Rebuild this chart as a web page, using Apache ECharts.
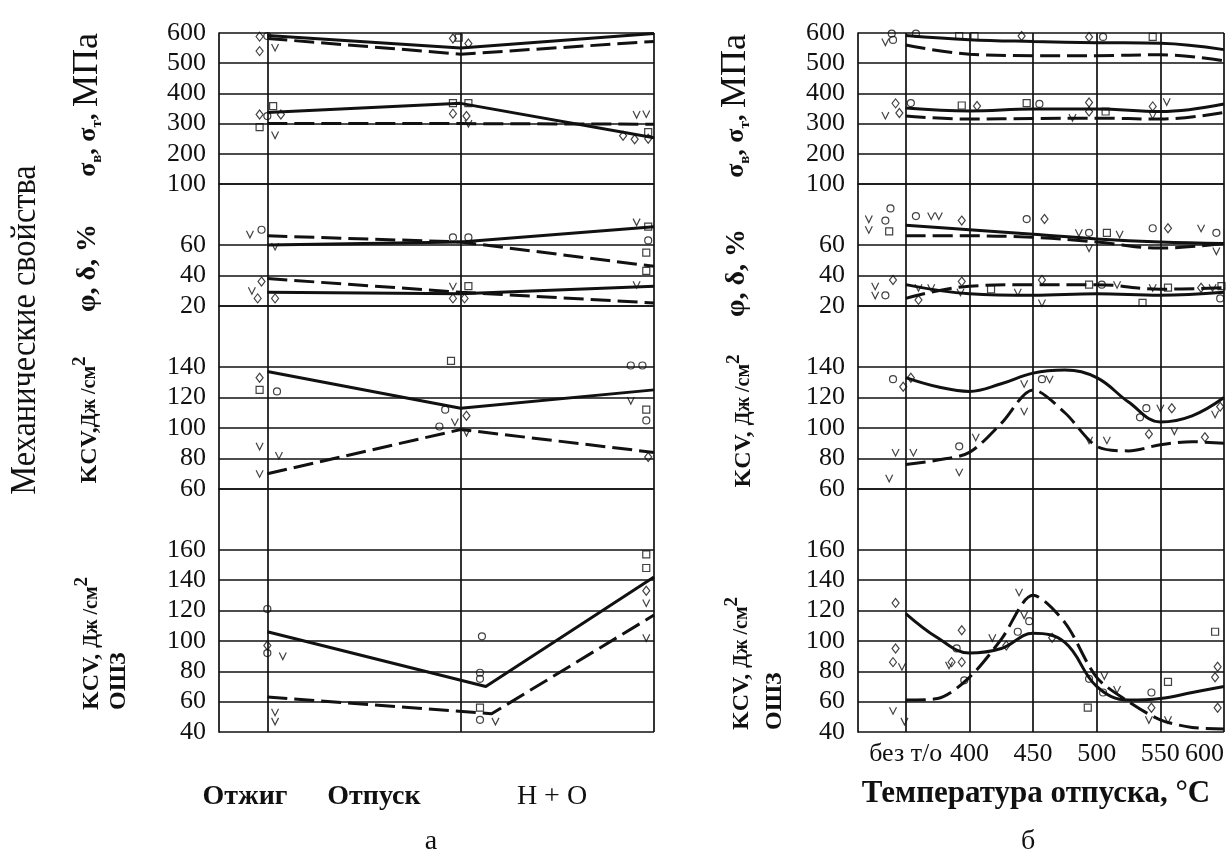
<!DOCTYPE html>
<html lang="ru">
<head>
<meta charset="utf-8">
<title>Механические свойства</title>
<script src="https://cdn.jsdelivr.net/npm/echarts@6.0.0/dist/echarts.min.js"></script>
<style>
  html, body { margin: 0; background: #fff; }
  #chart { width: 1231px; height: 854px; }
</style>
</head>
<body>
<div id="chart"></div>
<script>
// ---- панель а: режимы термообработки (1 — отжиг, 2 — отпуск, 3 — Н+О) ----
const regimeX = [1, 2, 3]
const sbSolidA = [592, 550, 598]   // σв
const sbDashA = [582, 530, 572]
const stSolidA = [337, 367, 253]   // σт
const stDashA = [300, 300, 298]
const psiSolidA = [60, 62, 72]     // φ
const psiDashA = [66, 62, 46]
const dSolidA = [29, 28, 33]       // δ
const dDashA = [38, 29, 22]
const kcvSolidA = [137, 113, 125]
const kcvDashA = [70, 99, 84]
const hazSolidXA = [1, 2.13, 3]    // KCV ОШЗ, излом правее «отпуска»
const hazSolidA = [106, 70, 142]
const hazDashXA = [1, 2.16, 3]
const hazDashA = [63, 52, 117]

// ---- панель б: температура отпуска (350 — «без т/о») ----
const tempX = [350, 400, 450, 500, 550, 600]
const tempFineX = [350, 375, 400, 425, 450, 475, 500, 525, 550, 575, 600]
const sbSolidB = [592, 578, 572, 568, 566, 545]
const sbDashB = [560, 530, 525, 525, 528, 508]
const stSolidB = [352, 342, 348, 348, 340, 365]
const stDashB = [325, 315, 317, 318, 315, 337]
const psiSolidB = [73, 70, 67, 64, 62, 61]
const psiDashB = [66, 66, 65, 62, 58, 61]
const dSolidB = [34, 28, 27, 28, 27, 29]
const dDashB = [25, 33, 34, 34, 31, 32]
const kcvSolidB = [133, 127, 124, 129, 136, 138, 133, 117, 104, 108, 120]
const kcvDashB = [76, 79, 84, 103, 125, 110, 88, 85, 89, 91, 90]
const hazSolidB = [118, 102, 92, 95, 105, 99, 70, 61, 62, 66, 70]
const hazDashB = [61, 62, 76, 101, 130, 112, 76, 60, 48, 43, 42]

// ---- экспериментальные точки: [x, значение, вид] d — ромб, s — квадрат, c — круг, v — галочка ----
const ptsA1 = [[0.96,588,'d'],[0.96,540,'d'],[1.04,552,'v'],[1.0,590,'c'],[1.03,358,'s'],[0.96,330,'d'],[1.0,325,'c'],[0.96,288,'s'],[1.04,262,'v'],[1.07,330,'d'],
  [1.96,582,'d'],[1.99,585,'s'],[2.04,565,'d'],[1.96,368,'s'],[2.04,368,'s'],[1.96,333,'d'],[2.03,325,'d'],[2.04,300,'v'],
  [2.91,330,'v'],[2.96,332,'v'],[2.84,260,'d'],[2.9,248,'d'],[2.97,250,'d'],[2.97,272,'s']]
const ptsA2 = [[0.91,67,'v'],[0.97,70,'c'],[1.04,59,'v'],[1.96,65,'c'],[2.04,65,'c'],
  [2.91,75,'v'],[2.97,72,'s'],[2.97,63,'c'],[2.96,55,'s'],[2.96,43,'s'],
  [0.97,36,'d'],[0.92,30,'v'],[0.95,25,'d'],[1.04,25,'d'],[1.96,33,'v'],[2.04,33,'s'],[1.96,25,'d'],[2.02,25,'d'],[2.91,34,'v']]
const ptsA3 = [[0.96,133,'d'],[0.96,125,'s'],[1.05,124,'c'],[0.96,88,'v'],[1.06,82,'v'],[0.96,70,'v'],
  [1.95,144,'s'],[1.92,112,'c'],[2.03,108,'d'],[1.97,104,'v'],[1.89,101,'c'],[2.03,97,'v'],
  [2.88,141,'c'],[2.94,141,'c'],[2.88,118,'v'],[2.96,112,'s'],[2.96,105,'c'],[2.97,81,'d']]
const ptsA4 = [[1.0,121,'c'],[1.0,97,'d'],[1.0,92,'c'],[1.08,90,'v'],[1.04,53,'v'],[1.04,47,'v'],
  [2.11,103,'c'],[2.1,79,'c'],[2.1,75,'c'],[2.1,56,'s'],[2.1,48,'c'],[2.18,47,'v'],
  [2.96,157,'s'],[2.96,148,'s'],[2.96,133,'d'],[2.96,125,'v'],[2.96,102,'v']]
const ptsB1 = [[339,598,'c'],[358,598,'c'],[334,570,'v'],[340,577,'c'],[392,590,'s'],[404,590,'s'],[441,590,'d'],[494,587,'d'],[505,587,'c'],[544,587,'s'],
  [342,367,'d'],[354,368,'c'],[334,327,'v'],[345,335,'d'],[394,360,'s'],[406,358,'d'],[445,368,'s'],[455,365,'c'],[494,370,'d'],[494,340,'d'],
  [507,340,'s'],[481,320,'v'],[544,357,'d'],[555,372,'v'],[544,327,'v']]
const ptsB2 = [[321,77,'v'],[321,70,'v'],[338,84,'c'],[334,76,'c'],[337,69,'s'],[358,79,'c'],[370,79,'v'],[376,79,'v'],[394,76,'d'],[445,77,'c'],[459,77,'d'],
  [486,68,'v'],[494,68,'c'],[508,68,'s'],[518,67,'v'],[544,71,'c'],[556,71,'d'],[582,71,'v'],[594,68,'c'],[594,56,'v'],[494,58,'v'],
  [326,33,'v'],[326,27,'v'],[334,27,'c'],[340,37,'d'],[360,32,'v'],[370,32,'v'],[360,24,'d'],[394,36,'d'],[393,29,'v'],[417,31,'s'],[438,29,'v'],
  [457,37,'d'],[457,22,'v'],[494,34,'s'],[504,34,'c'],[516,34,'v'],[544,32,'v'],[556,32,'s'],[536,22,'s'],[582,32,'d'],[591,32,'v'],[598,33,'s'],[597,25,'c']]
const ptsB3 = [[340,132,'c'],[348,127,'d'],[354,133,'d'],[342,84,'v'],[356,84,'v'],[337,67,'v'],[392,88,'c'],[405,94,'v'],[392,71,'v'],
  [443,129,'v'],[443,111,'v'],[457,132,'c'],[463,132,'v'],[494,92,'v'],[508,92,'v'],[539,113,'c'],[550,113,'v'],[559,113,'d'],
  [534,107,'c'],[541,96,'d'],[561,98,'v'],[585,94,'d'],[597,114,'d'],[593,109,'v']]
const ptsB4 = [[342,125,'d'],[342,95,'d'],[340,86,'d'],[347,83,'v'],[340,54,'v'],[349,47,'v'],[394,107,'d'],[390,95,'c'],[386,86,'d'],[394,86,'d'],
  [384,84,'v'],[396,74,'c'],[418,102,'v'],[429,97,'d'],[438,106,'c'],[439,132,'v'],[447,113,'c'],[443,117,'v'],[465,102,'d'],
  [493,56,'s'],[494,75,'c'],[506,77,'v'],[505,66,'c'],[516,68,'v'],[543,66,'c'],[556,73,'s'],[543,56,'d'],[541,48,'v'],[556,48,'v'],
  [593,106,'s'],[595,83,'d'],[593,76,'d'],[595,56,'d']]

const FONT = '"Liberation Serif", "DejaVu Serif", serif'
const INK = '#111'
const NONE = 'rgba(0,0,0,0)'

// полосы по вертикали: прочность, пластичность, KCV, KCV ОШЗ
const rows = [
  { top: 33, height: 151, min: 100, max: 600, step: 100, lastLabel: 600, colors: [INK] },
  { top: 184, height: 122, min: 20, max: 100, step: 20, lastLabel: 60, colors: [INK, INK, INK, NONE, INK] },
  { top: 306, height: 183, min: 60, max: 180, step: 20, lastLabel: 140, colors: [INK, INK, INK, INK, INK, NONE, INK] },
  { top: 489, height: 243, min: 40, max: 200, step: 20, lastLabel: 160, colors: [INK, INK, INK, INK, INK, INK, INK, NONE, INK] },
]
const panels = [
  { left: 219, width: 435, min: 0.75, max: 3, step: 0.25, colors: [NONE, INK, NONE, NONE] },
  { left: 858, width: 366, min: 312.5, max: 600, step: 12.5, colors: [NONE, NONE, NONE, INK] },
]

const grids = []
const xAxes = []
const yAxes = []
panels.forEach((p, pi) => {
  rows.forEach((r, ri) => {
    const gi = pi * 4 + ri
    grids.push({ left: p.left, width: p.width, top: r.top, height: r.height, containLabel: false, outerBoundsMode: 'none' })
    xAxes.push({
      type: 'value', gridIndex: gi, min: p.min, max: p.max, interval: p.step,
      axisLine: { show: false }, axisTick: { show: false },
      axisLabel: pi === 1 && ri === 3
        ? { show: true, margin: 9, color: INK, fontFamily: FONT, fontSize: 26, alignMaxLabel: 'right',
            formatter: (v) => (v === 350 ? 'без т/о' : v % 50 === 0 ? String(v) : '') }
        : { show: false },
      splitLine: { show: true, lineStyle: { color: p.colors, width: 1.7 } },
    })
    yAxes.push({
      type: 'value', gridIndex: gi, min: r.min, max: r.max, interval: r.step,
      axisLine: { show: true, lineStyle: { color: INK, width: 1.7 } },
      axisTick: { show: false },
      axisLabel: { margin: 13, color: INK, fontFamily: FONT, fontSize: 26,
        formatter: (v) => (v <= r.lastLabel ? String(v) : '') },
      splitLine: { show: true, lineStyle: { color: r.colors, width: 1.7 } },
    })
  })
})

const curve = (gi, xs, ys, dashed, smooth) => ({
  type: 'line', xAxisIndex: gi, yAxisIndex: gi,
  data: xs.map((x, i) => [x, ys[i]]),
  showSymbol: false, smooth: smooth || false, silent: true, z: 3,
  lineStyle: { color: INK, width: 3, type: dashed ? [20, 7] : 'solid' },
})

const SYMBOLS = {
  d: { symbol: 'diamond', size: [7, 9] },
  s: { symbol: 'rect', size: [7, 7] },
  c: { symbol: 'circle', size: [7, 7] },
  v: { symbol: 'path://M0,0L5,10L10,0', size: [7, 7] },
}
const marks = (gi, pts) => Object.keys(SYMBOLS).map((k) => ({
  type: 'scatter', xAxisIndex: gi, yAxisIndex: gi, silent: true, z: 4,
  data: pts.filter((p) => p[2] === k).map((p) => [p[0], p[1]]),
  symbol: SYMBOLS[k].symbol, symbolSize: SYMBOLS[k].size,
  itemStyle: { color: NONE, borderColor: INK, borderWidth: 1.2 },
}))

const series = [
  curve(0, regimeX, sbSolidA, false), curve(0, regimeX, sbDashA, true),
  curve(0, regimeX, stSolidA, false), curve(0, regimeX, stDashA, true),
  curve(1, regimeX, psiSolidA, false), curve(1, regimeX, psiDashA, true),
  curve(1, regimeX, dSolidA, false), curve(1, regimeX, dDashA, true),
  curve(2, regimeX, kcvSolidA, false), curve(2, regimeX, kcvDashA, true),
  curve(3, hazSolidXA, hazSolidA, false), curve(3, hazDashXA, hazDashA, true),
  curve(4, tempX, sbSolidB, false, 0.4), curve(4, tempX, sbDashB, true, 0.4),
  curve(4, tempX, stSolidB, false, 0.4), curve(4, tempX, stDashB, true, 0.4),
  curve(5, tempX, psiSolidB, false, 0.4), curve(5, tempX, psiDashB, true, 0.4),
  curve(5, tempX, dSolidB, false, 0.4), curve(5, tempX, dDashB, true, 0.4),
  curve(6, tempFineX, kcvSolidB, false, 0.4), curve(6, tempFineX, kcvDashB, true, 0.3),
  curve(7, tempFineX, hazSolidB, false, 0.4), curve(7, tempFineX, hazDashB, true, 0.3),
  ...marks(0, ptsA1), ...marks(1, ptsA2), ...marks(2, ptsA3), ...marks(3, ptsA4),
  ...marks(4, ptsB1), ...marks(5, ptsB2), ...marks(6, ptsB3), ...marks(7, ptsB4),
]

// подписи осей — повернутый текст
const tok = (size, weight, va, lh) => ({
  fontFamily: FONT, fontSize: size, fontWeight: weight || 'normal', fill: INK,
  verticalAlign: va || 'middle', lineHeight: lh || size,
})
const rich = {
  b: tok(26, 'bold', 'middle', 34), sub: tok(15, 'bold', 'bottom', 16), m: tok(36, 'normal', 'middle', 34),
  k: tok(24, 'bold', 'middle', 38), u: tok(20, 'bold', 'middle', 38), sup: tok(19, 'bold', 'top', 18),
  p: tok(28, 'bold'),
}
const vtext = (x, y, text, align, scale) => ({
  type: 'text', x, y, rotation: Math.PI / 2, scaleX: scale || 1, silent: true,
  style: { text, rich, align: align || 'center', verticalAlign: 'middle', fill: INK },
})
const htext = (x, y, text, font) => ({
  type: 'text', x, y, silent: true,
  style: { text, font, fill: INK, align: 'center', verticalAlign: 'middle' },
})
const sigmaTitle = '{b|σ}{sub|в}{b|, σ}{sub|т}{b|, }{m|МПа}'
const plastTitle = '{p|φ, δ, %}'
const kcvTitle = '{k|KCV,}{u|Дж /см}{sup|2}'
const kcvTitle2 = '{k|KCV, }{u|Дж /см}{sup|2}'

const graphic = [
  { type: 'text', x: 26, y: 330, rotation: Math.PI / 2, scaleX: 0.9, silent: true,
    style: { text: 'Механические свойства', font: '36px ' + FONT, fill: INK, align: 'center', verticalAlign: 'middle' } },
  vtext(88, 105, sigmaTitle), vtext(88, 268, plastTitle), vtext(90, 420, kcvTitle),
  vtext(92, 710, kcvTitle2, 'left'), vtext(119, 710, '{k|ОШЗ}', 'left'),
  vtext(736, 106, sigmaTitle), vtext(737, 273, plastTitle), vtext(744, 421, kcvTitle2),
  vtext(742, 730, kcvTitle2, 'left'), vtext(775, 730, '{k|ОШЗ}', 'left'),
  htext(245, 797, 'Отжиг', 'bold 28px ' + FONT),
  htext(374, 797, 'Отпуск', 'bold 28px ' + FONT),
  htext(552, 797, 'Н + О', '28px ' + FONT),
  htext(431, 842, 'а', '28px ' + FONT),
  htext(1036, 794, 'Температура отпуска, °С', 'bold 31px ' + FONT),
  htext(1028, 842, 'б', '28px ' + FONT),
]

const chart = echarts.init(document.getElementById('chart'))
chart.setOption({
  animation: false,
  backgroundColor: '#fff',
  grid: grids,
  xAxis: xAxes,
  yAxis: yAxes,
  series,
  graphic,
})
</script>
</body>
</html>
